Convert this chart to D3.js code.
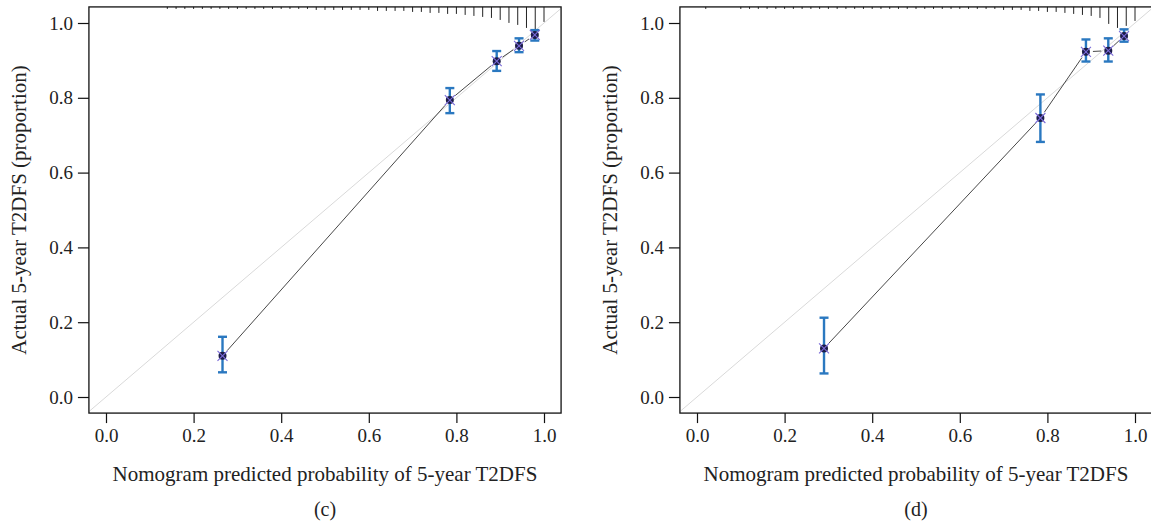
<!DOCTYPE html>
<html>
<head>
<meta charset="utf-8">
<script src="https://cdn.jsdelivr.net/npm/d3@7"></script>
<style>
  body { margin: 0; background: #fff; }
  svg { display: block; font-family: 'Liberation Serif', 'DejaVu Serif', serif; }
</style>
</head>
<body>
<div class="canvas"></div>
<script>
// panel (c)
const predC = [0.266, 0.785, 0.892, 0.943, 0.979]
const obsC = [0.110, 0.794, 0.898, 0.939, 0.968]
const lowC = [0.066, 0.759, 0.872, 0.922, 0.953]
const highC = [0.161, 0.826, 0.925, 0.959, 0.981]
const rugXC = [0.14, 0.16, 0.18, 0.20, 0.22, 0.24, 0.26, 0.28, 0.30, 0.32, 0.34, 0.36, 0.38, 0.40,
  0.42, 0.44, 0.46, 0.48, 0.50, 0.52, 0.54, 0.56, 0.58, 0.60, 0.62, 0.64, 0.66, 0.68, 0.70, 0.72,
  0.74, 0.76, 0.78, 0.80, 0.82, 0.84, 0.86, 0.88, 0.90, 0.92, 0.94, 0.96, 0.98, 1.00]
const rugNC = [2, 2, 2, 2, 2, 2, 2, 2, 2, 2, 2, 2, 2, 2,
  2, 2, 2, 3, 3, 3, 3, 3, 3, 3, 4, 4, 4, 4, 5, 5,
  6, 6, 7, 7, 8, 9, 10, 11, 13, 16, 18, 21, 23, 15]

// panel (d)
const predD = [0.290, 0.784, 0.888, 0.939, 0.975]
const obsD = [0.130, 0.746, 0.923, 0.926, 0.965]
const lowD = [0.063, 0.682, 0.897, 0.897, 0.950]
const highD = [0.212, 0.809, 0.956, 0.959, 0.983]
const rugXD = [0.02, 0.10, 0.12, 0.14, 0.16, 0.18, 0.20, 0.22, 0.24, 0.26, 0.28, 0.30, 0.32, 0.34,
  0.36, 0.38, 0.40, 0.42, 0.44, 0.46, 0.48, 0.50, 0.52, 0.54, 0.56, 0.58, 0.60, 0.62, 0.64, 0.66,
  0.68, 0.70, 0.72, 0.74, 0.76, 0.78, 0.80, 0.82, 0.84, 0.86, 0.88, 0.90, 0.92, 0.94, 0.96, 0.98, 1.00]
const rugND = [2, 2, 2, 2, 2, 2, 2, 2, 2, 2, 2, 2, 2, 2,
  2, 2, 2, 2, 2, 2, 2, 2, 2, 2, 2, 2, 2, 2, 2, 2,
  2, 3, 3, 3, 4, 4, 5, 5, 6, 7, 8, 9, 11, 17, 21, 19, 14]

const ticks = [0, 0.2, 0.4, 0.6, 0.8, 1.0]
const xTitle = 'Nomogram predicted probability of 5-year T2DFS'
const yTitle = 'Actual 5-year T2DFS (proportion)'

const svg = d3.select('.canvas').append('svg')
  .attr('width', 1151)
  .attr('height', 524)

const drawPanel = (left, p) => {
  const x = d3.scaleLinear().domain([0, 1]).range([left + 17, left + 455])
  const y = d3.scaleLinear().domain([0, 1]).range([397, 23])
  const g = svg.append('g')
  const x0 = x(-0.039), x1 = x(1.039)
  const y0 = y(-0.043), y1 = y(1.043)

  // ideal line
  g.append('line')
    .attr('x1', x0).attr('y1', y(x.invert(x0)))
    .attr('x2', x1).attr('y2', y(x.invert(x1)))
    .attr('stroke', '#d9d9d9').attr('stroke-width', 1)

  // rug of predicted values along the top
  g.selectAll('.rug').data(p.rugX).enter().append('line')
    .attr('x1', d => x(d)).attr('x2', d => x(d))
    .attr('y1', y1).attr('y2', (d, i) => y1 + p.rugN[i])
    .attr('stroke', '#222').attr('stroke-width', 1)

  // calibration line with gaps around points (type = "b")
  const pts = p.pred.map((d, i) => [x(d), y(p.obs[i])])
  const gap = 7
  for (let i = 0; i < pts.length - 1; i++) {
    const [ax, ay] = pts[i], [bx, by] = pts[i + 1]
    const len = Math.hypot(bx - ax, by - ay)
    if (len <= 2 * gap) continue
    const ux = (bx - ax) / len, uy = (by - ay) / len
    g.append('line')
      .attr('x1', ax + ux * gap).attr('y1', ay + uy * gap)
      .attr('x2', bx - ux * gap).attr('y2', by - uy * gap)
      .attr('stroke', '#333').attr('stroke-width', 0.9)
  }

  // error bars
  const bars = g.selectAll('.bar').data(p.pred).enter().append('g')
  bars.append('line')
    .attr('x1', d => x(d)).attr('x2', d => x(d))
    .attr('y1', (d, i) => y(p.low[i])).attr('y2', (d, i) => y(p.high[i]))
  bars.append('line')
    .attr('x1', d => x(d) - 4.5).attr('x2', d => x(d) + 4.5)
    .attr('y1', (d, i) => y(p.low[i])).attr('y2', (d, i) => y(p.low[i]))
  bars.append('line')
    .attr('x1', d => x(d) - 4.5).attr('x2', d => x(d) + 4.5)
    .attr('y1', (d, i) => y(p.high[i])).attr('y2', (d, i) => y(p.high[i]))
  bars.selectAll('line').attr('stroke', '#2a78c0').attr('stroke-width', 2.4)

  // observed points
  g.selectAll('.pt').data(pts).enter().append('circle')
    .attr('cx', d => d[0]).attr('cy', d => d[1]).attr('r', 4)
    .attr('fill', '#1c1c48')
  // bias-corrected marks
  g.selectAll('.xm').data(pts).enter().append('path')
    .attr('d', d => `M${d[0] - 5},${d[1] - 5}L${d[0] + 5},${d[1] + 5}M${d[0] - 5},${d[1] + 5}L${d[0] + 5},${d[1] - 5}`)
    .attr('stroke', '#7a6ad8').attr('stroke-width', 1.1).attr('fill', 'none')

  // box
  g.append('rect')
    .attr('x', x0).attr('y', y1)
    .attr('width', x1 - x0).attr('height', y0 - y1)
    .attr('fill', 'none').attr('stroke', '#111').attr('stroke-width', 1.3)

  // axes
  const xAxis = d3.axisBottom(x).tickValues(ticks).tickFormat(d3.format('.1f'))
    .tickSizeInner(10).tickSizeOuter(0).tickPadding(5)
  const yAxis = d3.axisLeft(y).tickValues(ticks).tickFormat(d3.format('.1f'))
    .tickSizeInner(11).tickSizeOuter(0).tickPadding(5)

  const xg = g.append('g').attr('transform', `translate(0,${y0})`).call(xAxis)
  const yg = g.append('g').attr('transform', `translate(${x0},0)`).call(yAxis)
  ;[xg, yg].forEach(a => {
    a.select('.domain').remove()
    a.selectAll('line').attr('stroke', '#111').attr('stroke-width', 1.2)
    a.selectAll('text').attr('fill', '#222').style('font-size', '19px')
      .style('font-family', "'Liberation Serif', serif")
  })

  g.append('text')
    .attr('x', x(0.5)).attr('y', 481)
    .attr('text-anchor', 'middle').attr('fill', '#222')
    .style('font-size', '21px')
    .text(xTitle)

  g.append('text')
    .attr('transform', `translate(${left - 63},${y(0.5)}) rotate(-90)`)
    .attr('text-anchor', 'middle').attr('fill', '#222')
    .style('font-size', '21px')
    .text(yTitle)

  g.append('text')
    .attr('x', x(0.5)).attr('y', 516)
    .attr('text-anchor', 'middle').attr('fill', '#222')
    .style('font-size', '20px')
    .text(p.label)
}

drawPanel(89, { pred: predC, obs: obsC, low: lowC, high: highC, rugX: rugXC, rugN: rugNC, label: '(c)' })
drawPanel(680, { pred: predD, obs: obsD, low: lowD, high: highD, rugX: rugXD, rugN: rugND, label: '(d)' })
</script>
</body>
</html>
